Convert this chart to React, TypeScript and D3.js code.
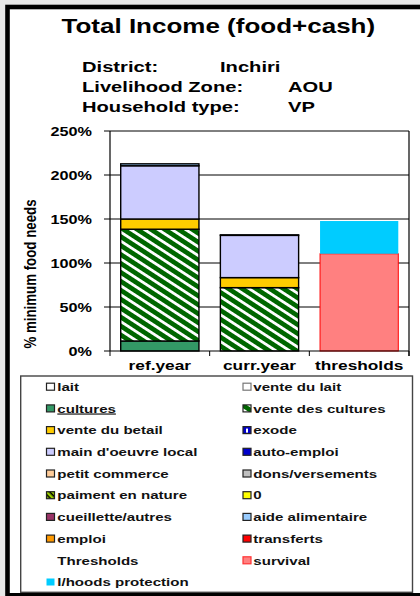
import React from "react";
import * as d3 from "d3";

// ---- data ----
const categories = ["ref.year", "curr.year", "thresholds"];
const cultures = [11.4, 0, 0];
const venteDesCultures = [127, 72, 0];
const venteDuBetail = [11.6, 11.4, 0];
const mainOeuvre = [60.5, 48, 0];
const aideAlimentaire = [2.2, 0.6, 0];
const survival = [0, 0, 110.5];
const lhoodsProtection = [0, 0, 37.2];
const yTicks = [0, 50, 100, 150, 200, 250];

const seriesKeys = [
  "cultures",
  "vente des cultures",
  "vente du betail",
  "main d'oeuvre local",
  "aide alimentaire",
  "survival",
  "l/hoods protection",
];
const seriesValues = [
  cultures,
  venteDesCultures,
  venteDuBetail,
  mainOeuvre,
  aideAlimentaire,
  survival,
  lhoodsProtection,
];

const legendLeft = [
  "lait",
  "cultures",
  "vente du betail",
  "main d'oeuvre local",
  "petit commerce",
  "paiment en nature",
  "cueillette/autres",
  "emploi",
  "Thresholds",
  "l/hoods protection",
];
const legendRight = [
  "vente du lait",
  "vente des cultures",
  "exode",
  "auto-emploi",
  "dons/versements",
  "0",
  "aide alimentaire",
  "transferts",
  "survival",
];

// ---- styles ----
const FILL: Record<string, string> = {
  lait: "#ffffff",
  "vente du lait": "#ffffff",
  cultures: "#339966",
  "vente des cultures": "url(#hatchGreen)",
  "vente du betail": "#ffcc00",
  exode: "#0000cc",
  "main d'oeuvre local": "#ccccff",
  "auto-emploi": "#0000cc",
  "petit commerce": "#ffcc99",
  "dons/versements": "#c0c0c0",
  "paiment en nature": "url(#hatchYellow)",
  "0": "#ffff00",
  "cueillette/autres": "#993366",
  "aide alimentaire": "#99ccff",
  emploi: "#ff9900",
  transferts: "#ff0000",
  survival: "#ff8080",
  "l/hoods protection": "#00ccff",
};
const STROKE: Record<string, string> = {
  survival: "#ff0000",
  "l/hoods protection": "none",
};

const SX = 1.3;
const FONT = "'Liberation Sans', Arial, sans-serif";

function T(props: any) {
  const { x, y, size, anchor = "start", children, rotate = false, fill = "#000", underline = false, weight = "bold" } = props;
  return (
    <text
      transform={`translate(${x},${y}) scale(${SX},1)${rotate ? " rotate(-90)" : ""}`}
      fontSize={size}
      fontFamily={FONT}
      fontWeight={weight}
      textAnchor={anchor}
      fill={fill}
      textDecoration={underline ? "underline" : undefined}
    >
      {children}
    </text>
  );
}

export default function App() {
  const W = 420;
  const H = 596;
  const plot = { left: 110, right: 409, top: 131, bottom: 351 };

  const x = d3
    .scaleBand<string>()
    .domain(categories)
    .range([plot.left, plot.right])
    .paddingInner(0.215)
    .paddingOuter(0.1075);
  const y = d3.scaleLinear().domain([0, 250]).range([plot.bottom, plot.top]);

  const table = categories.map((c, i) => {
    const row: any = { cat: c };
    seriesKeys.forEach((k, j) => (row[k] = seriesValues[j][i]));
    return row;
  });
  const stacked = d3.stack<any>().keys(seriesKeys)(table);

  const bandEdges = categories.map((c) => (x(c) as number) - (x.step() - x.bandwidth()) / 2);
  bandEdges.push(plot.right);

  const rowH = 21.7;
  const legTop = 386.7;

  const marker = (name: string, cx: number, cy: number) => {
    if (name === "Thresholds") return null;
    const f = FILL[name];
    let stroke = "#222";
    if (name === "vente du lait") stroke = "#777";
    if (name === "survival") stroke = "#ff3333";
    if (name === "l/hoods protection") stroke = "none";
    return (
      <g>
        <rect x={cx} y={cy - 3.5} width={8} height={7} fill={f} stroke={stroke} strokeWidth={1.2} />
        {name === "exode" && <rect x={cx + 3} y={cy - 1.5} width={2} height={4} fill="#fff" />}
      </g>
    );
  };

  return (
    <svg width={W} height={H} style={{ position: "fixed", left: 0, top: 0 }}>
      <defs>
        <pattern id="hatchGreen" patternUnits="userSpaceOnUse" width={20} height={7.5} patternTransform="rotate(33)">
          <rect width={20} height={7.5} fill="#006600" />
          <rect y={0} width={20} height={2.8} fill="#ffffff" />
        </pattern>
        <pattern id="hatchYellow" patternUnits="userSpaceOnUse" width={4} height={4} patternTransform="rotate(45)">
          <rect width={4} height={4} fill="#99cc00" />
          <rect width={4} height={1.5} fill="#000" />
        </pattern>
      </defs>

      <rect x={0} y={0} width={W} height={H} fill="#e8e8e8" />
      <rect x={7.5} y={7} width={W} height={588.3} fill="#ffffff" stroke="#000" strokeWidth={4.6} />

      {/* Title block */}
      <T x={61.5} y={33} size={20}>Total Income (food+cash)</T>
      <T x={82} y={71.7} size={15.5}>District:</T>
      <T x={220} y={71.7} size={15.5}>Inchiri</T>
      <T x={82} y={91.7} size={15.5}>Livelihood Zone:</T>
      <T x={288} y={91.7} size={15.5}>AOU</T>
      <T x={82} y={111.7} size={15.5}>Household type:</T>
      <T x={288} y={111.7} size={15.5}>VP</T>
      <rect x={12} y={116} width={400} height={12} fill="#ffffff" />

      {/* grid */}
      {yTicks.map((t) => (
        <g key={t}>
          {t > 0 && <line x1={plot.left} x2={plot.right} y1={y(t)} y2={y(t)} stroke="#000" strokeWidth={1} />}
          <line x1={plot.left - 6} x2={plot.left} y1={y(t)} y2={y(t)} stroke="#000" strokeWidth={1} />
          <T x={92} y={y(t) + 4.5} size={12.5} anchor="end">{`${t}%`}</T>
        </g>
      ))}
      <line x1={plot.right} x2={plot.right} y1={plot.top} y2={plot.bottom + 5} stroke="#000" strokeWidth={1.2} />

      {/* bars */}
      {stacked.map((s) => (
        <g key={s.key}>
          {s.map((d, i) => {
            const h = y(d[0]) - y(d[1]);
            if (h <= 0) return null;
            const isThr = categories[i] === "thresholds";
            return (
              <rect
                key={i}
                x={x(categories[i])}
                y={y(d[1])}
                width={x.bandwidth()}
                height={h}
                fill={FILL[s.key]}
                stroke={isThr ? STROKE[s.key] || "none" : "#000"}
                strokeWidth={isThr ? 1 : 1.4}
              />
            );
          })}
        </g>
      ))}

      {/* axes */}
      <line x1={plot.left} x2={plot.left} y1={plot.top} y2={plot.bottom} stroke="#000" strokeWidth={1.2} />
      <line x1={plot.left} x2={plot.right} y1={plot.bottom} y2={plot.bottom} stroke="#000" strokeWidth={1.2} />
      {bandEdges.map((e, i) => (
        <line key={i} x1={e} x2={e} y1={plot.bottom} y2={plot.bottom + 5} stroke="#000" strokeWidth={1} />
      ))}
      {categories.map((c) => (
        <T key={c} x={(x(c) as number) + x.bandwidth() / 2} y={369.5} size={13.3} anchor="middle">
          {c}
        </T>
      ))}
      <T x={36} y={274} size={13.3} anchor="middle" rotate>
        % minimum food needs
      </T>

      {/* legend */}
      <rect x={20.7} y={376} width={391.8} height={216.3} fill="#ffffff" stroke="#444" strokeWidth={1.4} />
      {legendLeft.map((n, i) => (
        <g key={n}>
          {marker(n, 46.5, legTop + i * rowH)}
          <T x={57.3} y={legTop + i * rowH + 4.2} size={11.6} fill="#111" underline={n === "cultures"}>
            {n}
          </T>
        </g>
      ))}
      {legendRight.map((n, i) => (
        <g key={n}>
          {marker(n, 243, legTop + i * rowH)}
          <T x={253.3} y={legTop + i * rowH + 4.2} size={11.6} fill="#111">
            {n}
          </T>
        </g>
      ))}
    </svg>
  );
}
